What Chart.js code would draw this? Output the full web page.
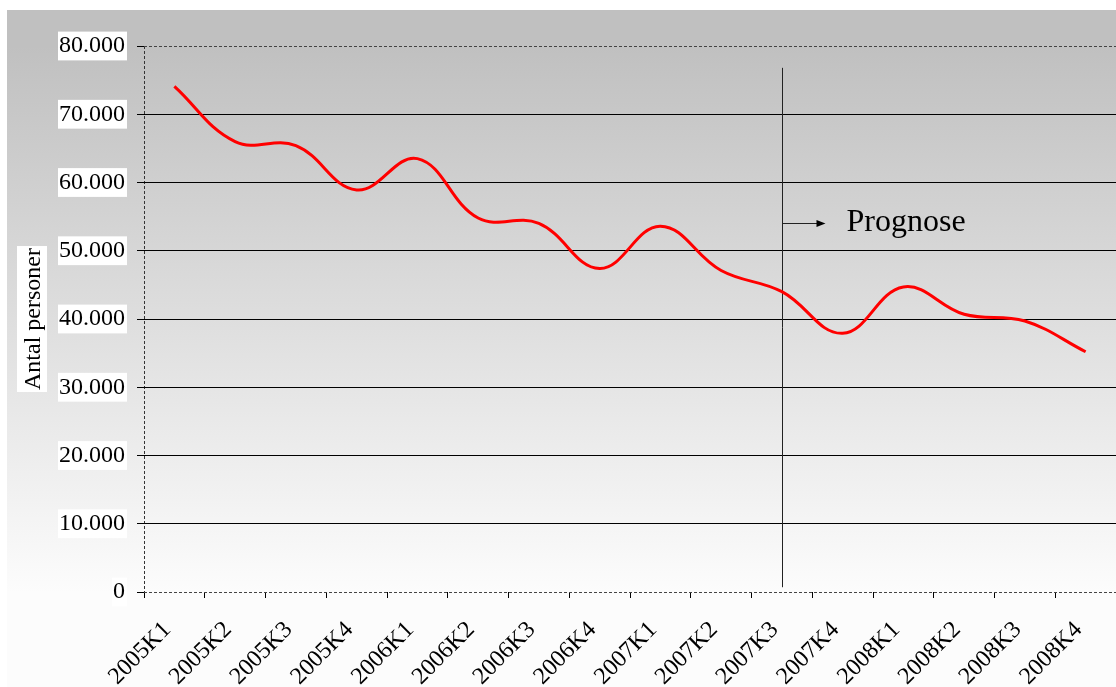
<!DOCTYPE html>
<html>
<head>
<meta charset="utf-8">
<script src="https://cdn.jsdelivr.net/npm/chart.js@4/dist/chart.umd.min.js"></script>
<style>
  html, body { margin: 0; padding: 0; background: #fff; overflow: hidden; }
  #wrap { position: relative; width: 1116px; height: 687px; }
</style>
</head>
<body>
<div id="wrap"><canvas id="chart" width="1116" height="687"></canvas></div>
<script>
/* data */
const quarters = ['2005K1', '2005K2', '2005K3', '2005K4',
                  '2006K1', '2006K2', '2006K3', '2006K4',
                  '2007K1', '2007K2', '2007K3', '2007K4',
                  '2008K1', '2008K2', '2008K3', '2008K4'];
const persons  = [74100, 66000, 65400, 58900,
                  63500, 54800, 54000, 47400,
                  53600, 47100, 44000, 37900,
                  44700, 40700, 39700, 35200];
const yMax      = 80000;
const yStep     = 10000;
const yTitle    = 'Antal personer';
const forecastStart = '2007K3';
const forecastLabel = 'Prognose';

const SERIF = '"Liberation Serif", "Times New Roman", serif';
const fmt = v => String(v).replace(/\B(?=(\d{3})+(?!\d))/g, '.');

/* ── grey-to-white backdrop behind the whole chart ── */
const backdrop = {
  id: 'backdrop',
  beforeDraw(chart) {
    const { ctx, chartArea: a } = chart;
    const g = ctx.createLinearGradient(0, a.top, 0, a.bottom);
    g.addColorStop(0, '#c0c0c0');
    g.addColorStop(1, '#fcfcfc');
    ctx.save();
    ctx.fillStyle = g;
    ctx.fillRect(7, 10, chart.width - 7, chart.height - 10);
    ctx.restore();
  }
};

/* ── forecast divider + arrow + label ── */
const forecast = {
  id: 'forecast',
  beforeDatasetsDraw(chart) {
    const { ctx, scales: { x, y } } = chart;
    const px = Math.round(x.getPixelForValue(quarters.indexOf(forecastStart))) + 0.5;
    const ay = Math.round(y.getPixelForValue(54000)) + 0.5;
    ctx.save();
    ctx.strokeStyle = '#222';
    ctx.lineWidth = 1;
    ctx.beginPath();
    ctx.moveTo(px, y.getPixelForValue(76800));
    ctx.lineTo(px, y.getPixelForValue(700));
    ctx.stroke();
    ctx.beginPath();
    ctx.moveTo(px, ay);
    ctx.lineTo(px + 36, ay);
    ctx.stroke();
    ctx.fillStyle = '#000';
    ctx.beginPath();
    ctx.moveTo(px + 43, ay);
    ctx.lineTo(px + 34, ay - 3.5);
    ctx.lineTo(px + 34, ay + 3.5);
    ctx.closePath();
    ctx.fill();
    ctx.font = '32px ' + SERIF;
    ctx.textBaseline = 'alphabetic';
    ctx.fillText(forecastLabel, px + 64, y.getPixelForValue(52900));
    ctx.restore();
  }
};

/* ── y axis title with white box ── */
const yTitleBox = {
  id: 'yTitleBox',
  afterDraw(chart) {
    const { ctx, chartArea: a } = chart;
    const cy = (a.top + a.bottom) / 2;
    ctx.save();
    ctx.font = '24px ' + SERIF;
    const w = ctx.measureText(yTitle).width;
    ctx.fillStyle = '#fff';
    ctx.fillRect(17, cy - w / 2 - 2, 30, w + 4);
    ctx.translate(33, cy);
    ctx.rotate(-Math.PI / 2);
    ctx.fillStyle = '#000';
    ctx.textAlign = 'center';
    ctx.textBaseline = 'middle';
    ctx.fillText(yTitle, 0, 1);
    ctx.restore();
  }
};

const isEdge = v => v === 0 || v === yMax;

new Chart(document.getElementById('chart'), {
  type: 'line',
  data: {
    labels: quarters,
    datasets: [{
      data: persons,
      borderColor: '#ff0000',
      borderWidth: 3,
      pointRadius: 0,
      fill: false,
      tension: 0.4
    }]
  },
  options: {
    responsive: false,
    animation: false,
    devicePixelRatio: 1,
    layout: { padding: { top: 46, right: 0, left: 0, bottom: 0 } },
    plugins: { legend: { display: false }, tooltip: { enabled: false } },
    scales: {
      x: {
        offset: true,
        afterFit: s => { s.height = 95; s.paddingLeft = 0; s.paddingRight = 0; },
        grid: {
          offset: true,
          color: c => c.index === 0 ? '#333' : 'transparent',
          tickColor: '#000',
          tickLength: 6
        },
        border: { display: false, dash: [3, 2] },
        ticks: {
          color: '#000',
          font: { family: SERIF, size: 24 },
          minRotation: 45, maxRotation: 45,
          autoSkip: false,
          padding: 18,
          labelOffset: -7
        }
      },
      y: {
        min: 0, max: yMax,
        afterFit: s => { s.width = 144; },
        grid: {
          color: c => isEdge(c.tick && c.tick.value) ? '#444' : '#000',
          tickColor: '#000',
          tickLength: 7
        },
        border: { display: false, dash: c => isEdge(c.tick && c.tick.value) ? [3, 2] : [] },
        ticks: {
          stepSize: yStep,
          color: '#000',
          font: { family: SERIF, size: 24 },
          padding: 12,
          callback: v => fmt(v),
          showLabelBackdrop: true,
          backdropColor: '#fff',
          backdropPadding: { top: 0, bottom: 0, left: 1, right: 2 }
        }
      }
    }
  },
  plugins: [backdrop, forecast, yTitleBox]
});
</script>
</body>
</html>
